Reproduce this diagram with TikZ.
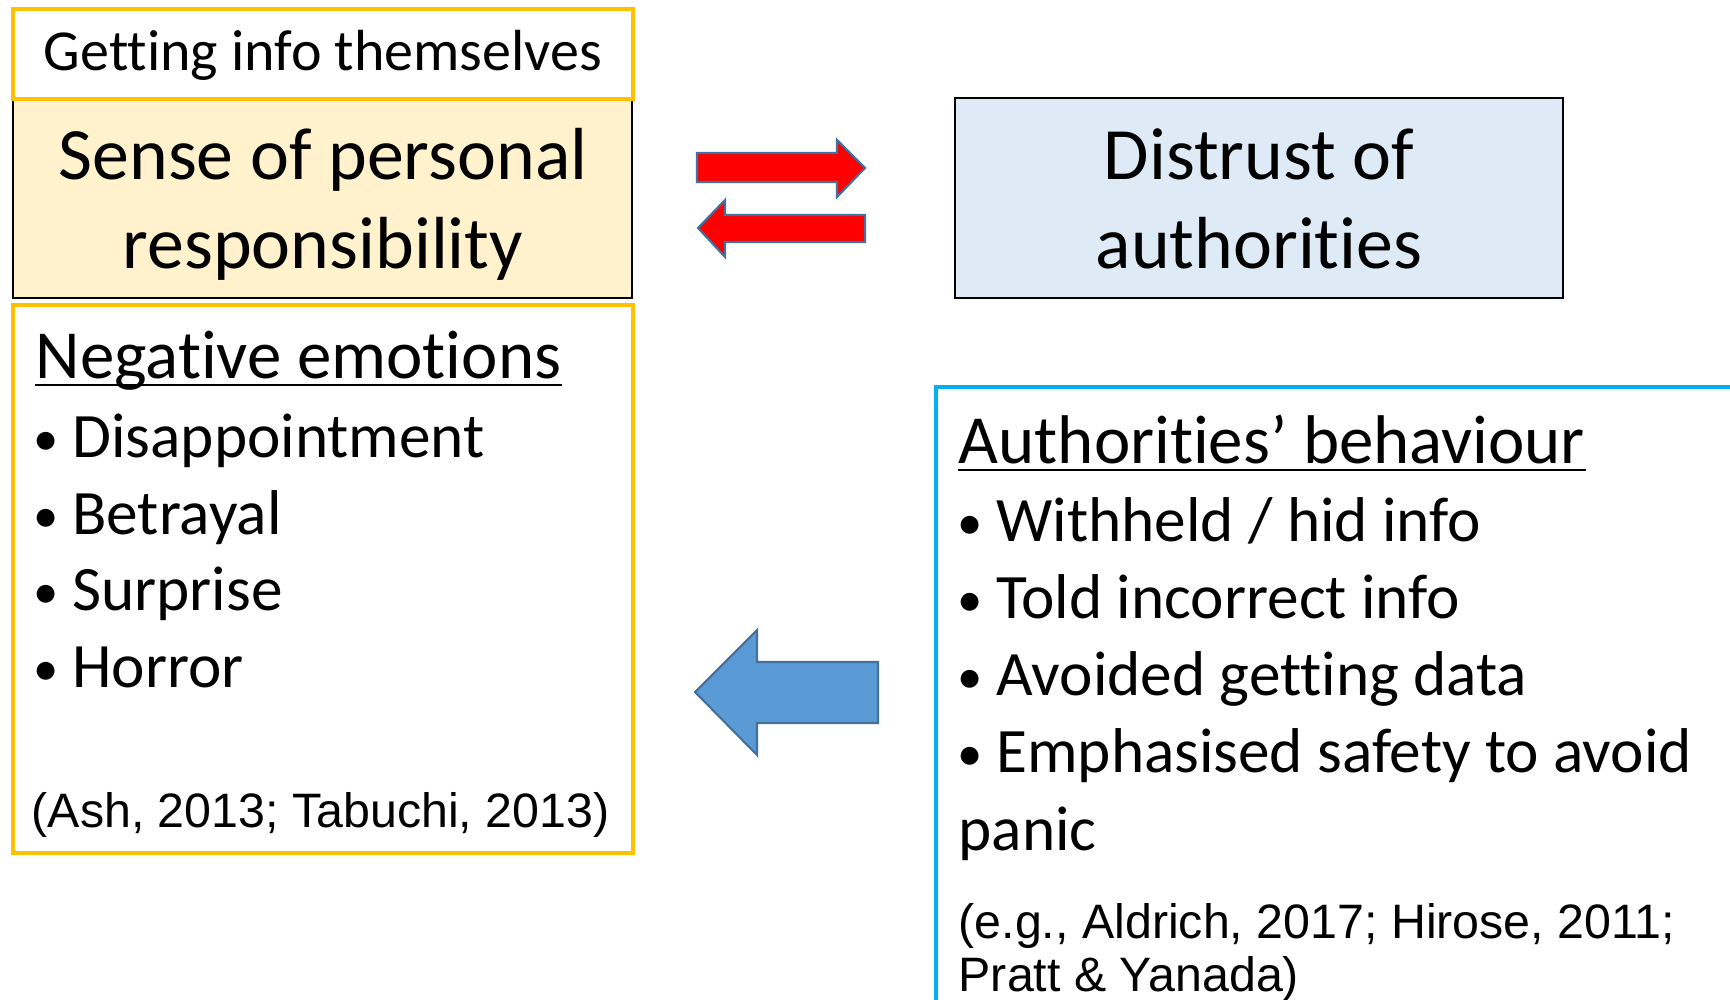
\documentclass[tikz,border=0pt]{standalone}
\usepackage{fontspec}
\setmainfont{Carlito}[RawFeature={-liga;-clig;-calt;-dlig}]
\newfontfamily\citefont{Liberation Sans}

\definecolor{boxgold}{HTML}{FFC000}
\definecolor{senseyellow}{HTML}{FFF2CC}
\definecolor{distrustblue}{HTML}{DEEBF7}
\definecolor{authcyan}{HTML}{00B0F0}
\definecolor{arrowedge}{HTML}{41719C}
\definecolor{arrowblue}{HTML}{5B9BD5}

\newcommand{\bul}{\makebox[11pt][l]{\raisebox{0.4pt}{\scalebox{0.8}{•}}}}

\tikzset{
    goldbox/.style={draw=boxgold, line width=1.25pt},
    plainbox/.style={draw=black, line width=0.5pt},
    title/.style={inner sep=0pt, anchor=base, font=\fontsize{21}{25}\selectfont},
    small/.style={inner sep=0pt, anchor=base, font=\fontsize{16.5}{20}\selectfont},
    head/.style={inner sep=0pt, anchor=base west, font=\fontsize{19.6}{24}\selectfont},
    item/.style={inner sep=0pt, anchor=base west, font=\fontsize{18}{22}\selectfont},
    cite/.style={inner sep=0pt, anchor=base west, font=\citefont\fontsize{13.75}{15}\selectfont},
    uline/.style={line width=0.6pt},
    redarrow/.style={fill=red, draw=arrowedge, line width=0.6pt, line join=miter},
    bluearrow/.style={fill=arrowblue, draw=arrowedge, line width=0.6pt, line join=miter}}

\begin{document}
\begin{tikzpicture}
    \useasboundingbox (0,0) rectangle (17.30,-9.99);

    % left column
    \draw[plainbox, fill=senseyellow] (0.13,-0.99) rectangle (6.32,-2.98);
    \draw[goldbox, fill=white]        (0.13,-0.09) rectangle (6.33,-0.99);
    \draw[goldbox]                    (0.13,-3.05) rectangle (6.33,-8.53);

    \node[small] at (3.23,-0.71) (getting) {Getting info themselves};
    \node[title] at (3.23,-1.79) (sense)   {Sense of personal};
    \node[title] at (3.23,-2.68) (resp)    {responsibility};

    \node[head] at (0.35,-3.78) (negative) {Negative emotions};
    \draw[uline] ([yshift=-0.07cm]negative.base west) -- ([yshift=-0.07cm]negative.base east);

    \foreach \nm/\yy/\txt in {disap/-4.57/Disappointment, betray/-5.34/Betrayal,
                              surpr/-6.10/Surprise, horror/-6.87/Horror}
        \node[item] at (0.33,\yy) (\nm) {\bul\txt};

    \node[cite] at (0.31,-8.27) (ashcite) {(Ash, 2013; Tabuchi, 2013)};

    % right column
    \draw[plainbox, fill=distrustblue] (9.55,-0.98) rectangle (15.63,-2.98);
    \node[title] at (12.59,-1.79) (distrust) {Distrust of};
    \node[title] at (12.59,-2.68) (auth)     {authorities};

    \draw[draw=authcyan, line width=1.25pt] (9.36,-10.30) -- (9.36,-3.87) -- (17.50,-3.87);

    \node[head] at (9.58,-4.63) (behaviour) {Authorities’ behaviour};
    \draw[uline] ([yshift=-0.07cm]behaviour.base west) -- ([yshift=-0.07cm]behaviour.base east);

    \foreach \nm/\yy/\txt in {withheld/-5.41/{Withheld / hid info}, told/-6.18/Told incorrect info,
                              avoided/-6.95/Avoided getting data, emph/-7.72/Emphasised safety to avoid}
        \node[item] at (9.57,\yy) (\nm) {\bul\txt};
    \node[item] at (9.58,-8.50) (panic) {panic};

    \node[cite] at (9.58,-9.38) (aldcite)  {(e.g., Aldrich, 2017; Hirose, 2011;};
    \node[cite] at (9.58,-9.91) (prattcite) {Pratt \& Yanada)};

    % arrows
    \draw[redarrow] (6.97,-1.53) -- (8.37,-1.53) -- (8.37,-1.40) -- (8.65,-1.68)
        -- (8.37,-1.97) -- (8.37,-1.82) -- (6.97,-1.82) -- cycle;
    \draw[redarrow] (8.65,-2.15) -- (7.25,-2.15) -- (7.25,-2.00) -- (6.98,-2.28)
        -- (7.25,-2.57) -- (7.25,-2.42) -- (8.65,-2.42) -- cycle;
    \draw[bluearrow] (8.78,-6.62) -- (7.57,-6.62) -- (7.57,-6.30) -- (6.95,-6.92)
        -- (7.57,-7.55) -- (7.57,-7.23) -- (8.78,-7.23) -- cycle;
\end{tikzpicture}
\end{document}
